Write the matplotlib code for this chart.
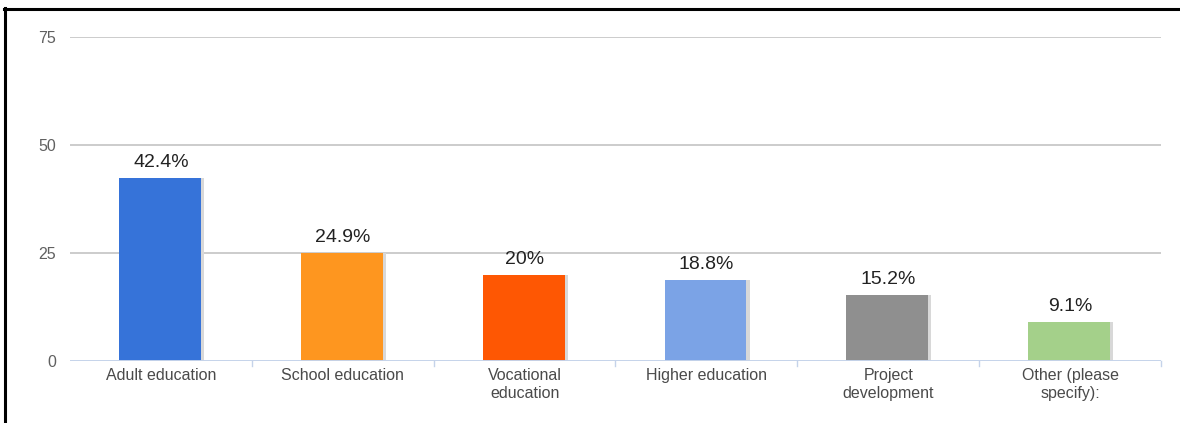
import matplotlib
matplotlib.use("Agg")
import matplotlib.pyplot as plt
from matplotlib.lines import Line2D
import numpy as np

plt.rcParams['font.family'] = ['Liberation Sans', 'DejaVu Sans']

categories = ["Adult education", "School education", "Vocational\neducation",
              "Higher education", "Project\ndevelopment", "Other (please\nspecify):"]
values = [42.4, 24.9, 20.0, 18.8, 15.2, 9.1]
value_labels = ["42.4%", "24.9%", "20%", "18.8%", "15.2%", "9.1%"]
colors = ["#3673d9", "#fe961f", "#fe5703", "#7ba3e6", "#8f8f8f", "#a4d08a"]
yticks = [0, 25, 50, 75]

fig = plt.figure(figsize=(11.8, 4.23), dpi=100)
ax = fig.add_axes([70/1180, 1 - 361/423, (1161 - 70)/1180, (361 - 37)/423])

x = np.arange(len(categories))
width = 0.45

# soft shadow behind each bar
ax.bar(x - 0.005 + 0.012, values, width=width + 0.01, color="#d8d8d8", zorder=2)
bars = ax.bar(x - 0.005, values, width=width, color=colors, zorder=3)

for xi, v, lab in zip(x, values, value_labels):
    ax.annotate(lab, (xi, v), xytext=(0, 5), textcoords="offset points",
                ha="center", va="bottom", fontsize=14, color="#222222")

ax.set_xlim(-0.5, len(categories) - 0.5)
ax.set_ylim(0, 75)
ax.set_yticks(yticks)
ax.set_yticklabels([str(t) for t in yticks], fontsize=11.5, color="#606060")
ax.tick_params(axis="y", length=0, pad=10)

ax.set_xticks(x)
ax.set_xticklabels(categories, fontsize=11.5, color="#4a4a4a", linespacing=1.25)
ax.tick_params(axis="x", length=0, pad=5)
for b in np.arange(0.5, len(categories) - 0.5, 1.0):
    ax.plot([b, b], [0, -1.2], color="#c5d3ea", lw=1, clip_on=False, zorder=1)
ax.plot([len(categories) - 0.5] * 2, [0, -1.2], color="#c5d3ea", lw=1, clip_on=False)

for t in yticks[1:]:
    ax.axhline(t, color="#cccccc", lw=1.4, zorder=1)
ax.axhline(0, color="#c5d3ea", lw=1.4, zorder=4)

for s in ax.spines.values():
    s.set_visible(False)

# frame around the figure edge
fig.add_artist(Line2D([5/1180, 5/1180], [0, 1 - 8/423], color="black", lw=2.2,
                      transform=fig.transFigure))
fig.add_artist(Line2D([4/1180, 1], [1 - 9/423, 1 - 9/423], color="black", lw=2.2,
                      transform=fig.transFigure))

fig.savefig("out.png", dpi=100)
